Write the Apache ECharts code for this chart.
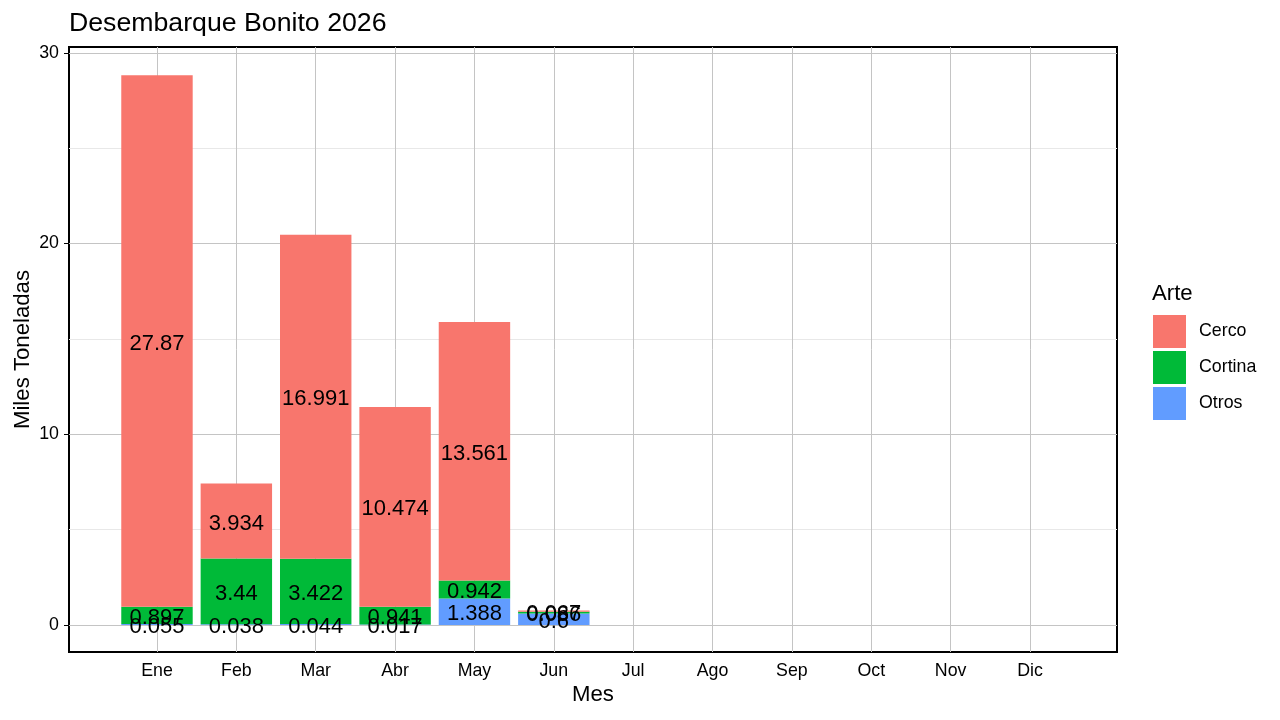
<!DOCTYPE html>
<html>
<head>
<meta charset="utf-8">
<script src="https://cdn.jsdelivr.net/npm/echarts@6/dist/echarts.min.js"></script>
<style>html,body{margin:0;padding:0;background:#fff}#c{width:1280px;height:720px}</style>
</head>
<body>
<div id="c"></div>
<script>
var months = ['Ene','Feb','Mar','Abr','May','Jun','Jul','Ago','Sep','Oct','Nov','Dic'];
var otros   = [0.055, 0.038, 0.044, 0.017, 1.388, 0.6];
var cortina = [0.897, 3.44, 3.422, 0.941, 0.942, 0.086];
var cerco   = [27.87, 3.934, 16.991, 10.474, 13.561, 0.067];
var yTicks = [0, 10, 20, 30];
var yMinor = [5, 15, 25];

var FONT = 'Liberation Sans';
var MAJOR = '#c4c4c4', MINOR = '#e8e8e8';

var hLines = [];
yTicks.forEach(function(v){ hLines.push({yAxis: v, lineStyle:{color: MAJOR, width:1, type:'solid'}}); });
yMinor.forEach(function(v){ hLines.push({yAxis: v, lineStyle:{color: MINOR, width:1, type:'solid'}}); });
var vLines = months.map(function(m){ return {xAxis: m, lineStyle:{color: MAJOR, width:1, type:'solid'}}; });

function barSeries(name, arr, color, withGrid){
  var s = {
    name: name, type: 'bar', stack: 'total', barWidth: '90%',
    xAxisIndex: 1, yAxisIndex: 1,
    data: arr,
    itemStyle: {color: color},
    z: 3,
    label: {show: true, position: 'inside', offset: [0, 2.5], color: '#000', fontFamily: FONT, fontSize: 22},
    emphasis: {disabled: true}
  };
  if (withGrid) {
    s.markLine = {silent: true, symbol: 'none', z: 1, animation: false,
      label: {show: false}, data: vLines};
  }
  return s;
}

var Y_MIN = -1.42, Y_MAX = 30.31;

var chart = echarts.init(document.getElementById('c'));
chart.setOption({
  animation: false,
  backgroundColor: '#fff',
  textStyle: {fontFamily: FONT},
  title: [
    {text: 'Desembarque Bonito 2026', left: 69, top: 10, padding: 0,
     textStyle: {fontFamily: FONT, fontSize: 26.7, fontWeight: 'normal', color: '#000'}},
    {text: 'Arte', left: 1152, top: 283, padding: 0,
     textStyle: {fontFamily: FONT, fontSize: 22.2, fontWeight: 'normal', color: '#000'}}
  ],
  legend: {
    orient: 'vertical', left: 1153, top: 315, padding: 0, itemWidth: 33, itemHeight: 33, itemGap: 3,
    icon: 'rect', data: ['Cerco','Cortina','Otros'],
    textStyle: {fontFamily: FONT, fontSize: 17.8, color: '#000', padding: [0,0,0,8]},
    selectedMode: false
  },
  grid: [
    {left: 69, right: 163, top: 47, bottom: 68, show: true, borderColor: '#000', borderWidth: 2,
     backgroundColor: 'transparent', outerBoundsMode: 'none', containLabel: false},
    {left: 117.3, right: 210.3, top: 47, bottom: 68, show: false, outerBoundsMode: 'none', containLabel: false}
  ],
  xAxis: [
    {type: 'value', gridIndex: 0, min: 0, max: 1, show: true,
     name: 'Mes', nameLocation: 'middle', nameGap: 32, nameMoveOverlap: false,
     nameTextStyle: {fontFamily: FONT, fontSize: 22.2, color: '#000'},
     axisLine: {show: false}, axisTick: {show: false}, axisLabel: {show: false}, splitLine: {show: false}},
    {type: 'category', gridIndex: 1, data: months, boundaryGap: true,
     axisLine: {show: false},
     axisTick: {show: true, alignWithLabel: true, length: 5, lineStyle: {color: '#000', width: 1}},
     axisLabel: {margin: 10, fontFamily: FONT, fontSize: 17.8, color: '#000', interval: 0},
     splitLine: {show: false}}
  ],
  yAxis: [
    {type: 'value', gridIndex: 0, min: Y_MIN, max: Y_MAX,
     name: 'Miles Toneladas', nameLocation: 'middle', nameGap: 35, nameMoveOverlap: false,
     nameTextStyle: {fontFamily: FONT, fontSize: 22.2, color: '#000'},
     axisLine: {show: false},
     axisTick: {show: true, customValues: yTicks, length: 5, lineStyle: {color: '#000', width: 1}},
     axisLabel: {customValues: yTicks, margin: 10, fontFamily: FONT, fontSize: 17.8, color: '#000'},
     splitLine: {show: false}},
    {type: 'value', gridIndex: 1, min: Y_MIN, max: Y_MAX, show: false,
     axisLine: {show: false}, axisTick: {show: false}, axisLabel: {show: false}, splitLine: {show: false}}
  ],
  series: [
    {name: 'grid', type: 'line', xAxisIndex: 0, yAxisIndex: 0, data: [], silent: true,
     markLine: {silent: true, symbol: 'none', z: 1, animation: false, label: {show: false}, data: hLines}},
    barSeries('Otros', otros, '#619CFF', true),
    barSeries('Cortina', cortina, '#00BA38', false),
    barSeries('Cerco', cerco, '#F8766D', false)
  ]
});
</script>
</body>
</html>
